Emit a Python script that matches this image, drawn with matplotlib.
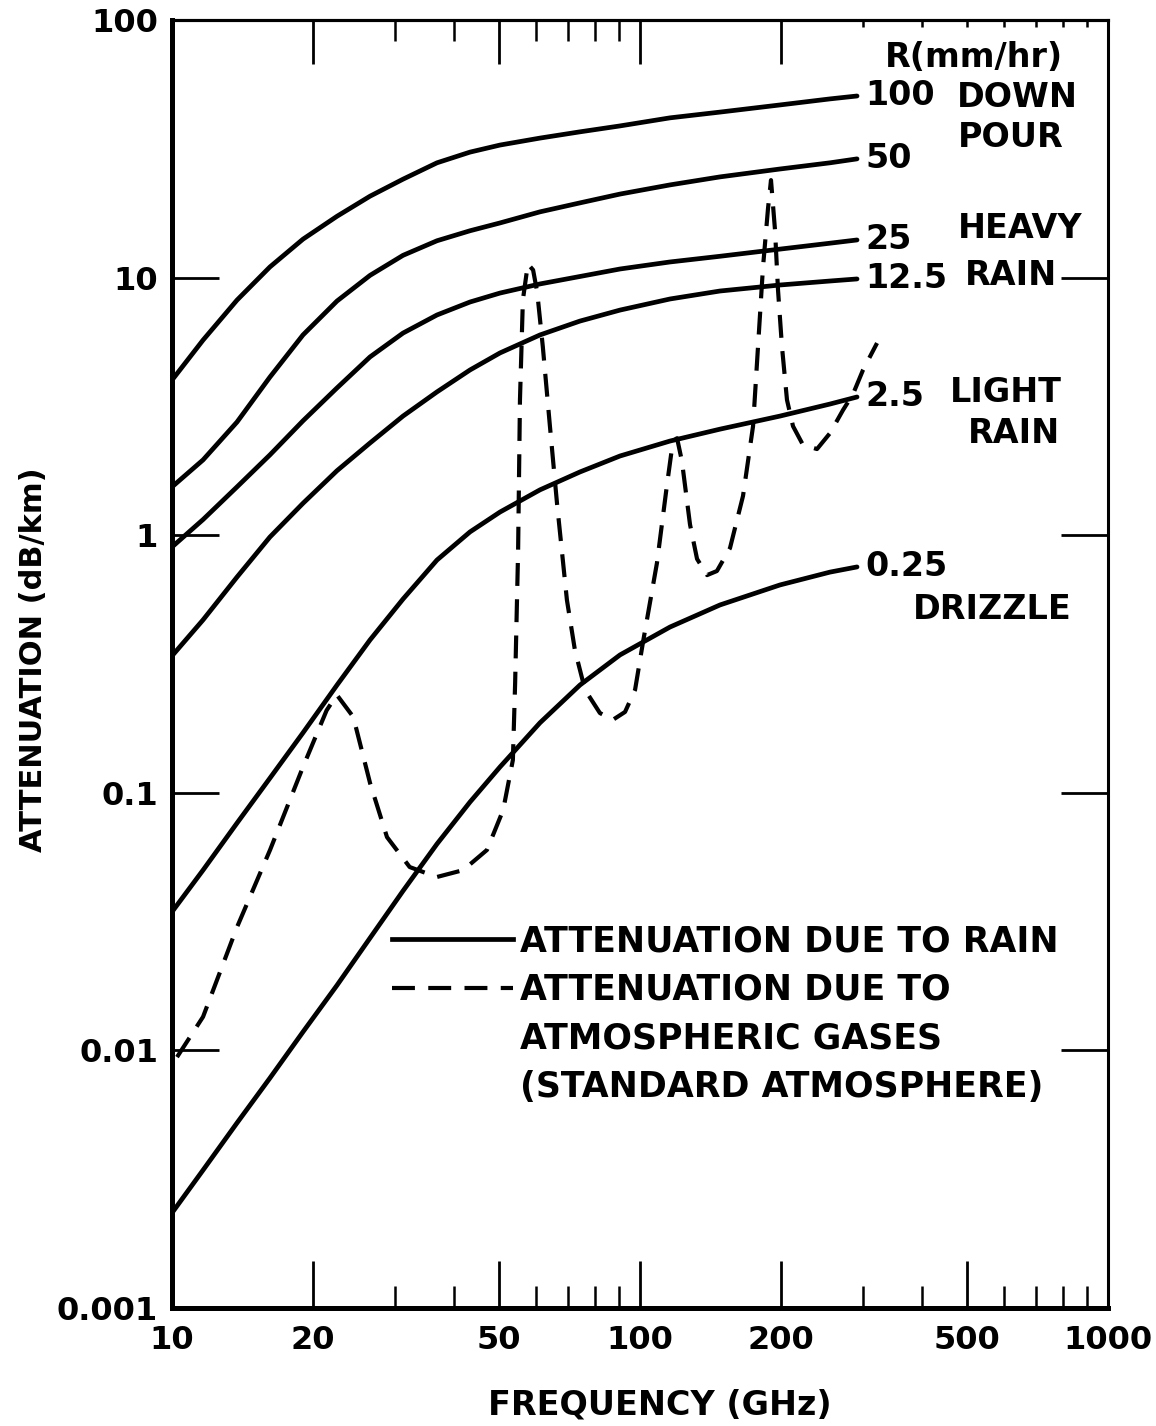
import numpy as np
import matplotlib
matplotlib.use("Agg")
import matplotlib.pyplot as plt
from matplotlib.lines import Line2D
from matplotlib.ticker import FixedLocator, FixedFormatter, NullFormatter, NullLocator

# rain attenuation curves (GHz, dB/km)
freq_rain = [10, 11.65, 13.77, 16.19, 19.05, 22.52, 26.49, 31.16, 36.83, 43.33,
             50.22, 61.14, 74.42, 90.64, 115.9, 148.2, 199.1, 254.7, 290.9]
rain_100 = [4.00, 5.72, 8.18, 11.0, 14.1, 17.3, 20.7, 24.1, 27.9, 30.7,
            32.7, 34.8, 36.8, 38.8, 41.7, 43.9, 46.8, 49.4, 50.7]
rain_50 = [1.54, 1.96, 2.75, 4.11, 5.99, 8.11, 10.2, 12.2, 13.9, 15.2,
           16.3, 18.0, 19.5, 21.1, 22.9, 24.6, 26.4, 27.9, 28.9]
rain_25 = [0.900, 1.15, 1.54, 2.05, 2.78, 3.73, 4.92, 6.09, 7.16, 8.04,
           8.71, 9.45, 10.1, 10.8, 11.5, 12.1, 12.9, 13.6, 14.0]
rain_12_5 = [0.340, 0.469, 0.688, 0.984, 1.33, 1.78, 2.28, 2.90, 3.60, 4.38,
             5.10, 5.99, 6.78, 7.48, 8.26, 8.87, 9.36, 9.70, 9.88]
rain_2_5 = [0.0345, 0.0501, 0.0763, 0.114, 0.171, 0.262, 0.392, 0.565, 0.801, 1.03,
            1.23, 1.50, 1.76, 2.03, 2.32, 2.58, 2.90, 3.23, 3.44]
rain_0_25 = [0.00234, 0.00343, 0.00523, 0.00781, 0.0118, 0.0179, 0.0273, 0.0416, 0.0633, 0.0921,
             0.126, 0.187, 0.262, 0.343, 0.440, 0.536, 0.641, 0.719, 0.753]
rain_labels = ["100", "50", "25", "12.5", "2.5", "0.25"]

# atmospheric gases (standard atmosphere)
gas_freq = [10.25, 11.65, 13.77, 16.2, 19.05, 21.4, 22.5, 24.4, 26.5, 28.8, 32.2, 36.8, 41.9, 47.1,
            51.0, 53.5, 54.1, 54.9, 55.4, 56.2, 57.6, 59.1, 60.3, 62.0, 64.2, 66.5, 69.8, 72.6,
            76.3, 82.1, 87.5, 92.9, 97.6, 101.5, 108.7, 114.2, 117.6, 120.0, 122.9, 127.9, 132.4,
            139.1, 146.0, 155.7, 166.0, 174.4, 178.7, 183.1, 187.7, 190.5, 194.3, 197.2, 201.1,
            206.1, 212.3, 223.0, 238.9, 254.7, 271.5, 285.2, 299.6, 321.0]
gas_atten = [0.00942, 0.0135, 0.0301, 0.0600, 0.126, 0.209, 0.240, 0.197, 0.109, 0.0673, 0.0515,
             0.0471, 0.0501, 0.0600, 0.0857, 0.134, 0.267, 0.877, 3.35, 8.19, 11.3, 10.7, 8.79,
             5.38, 2.65, 1.32, 0.560, 0.358, 0.251, 0.204, 0.192, 0.206, 0.251, 0.385, 0.780,
             1.57, 2.32, 2.38, 1.94, 1.10, 0.809, 0.700, 0.726, 0.891, 1.42, 2.65, 5.38, 10.9,
             18.5, 23.9, 15.3, 8.95, 5.38, 3.35, 2.65, 2.24, 2.16, 2.49, 3.06, 3.53, 4.38, 5.57]

x_major = [10, 20, 50, 100, 200, 500, 1000]
x_major_labels = ["10", "20", "50", "100", "200", "500", "1000"]
x_minor = [30, 40, 60, 70, 80, 90, 300, 400, 600, 700, 800, 900]
top_major = [20, 50, 100, 200]
top_minor = [30, 40, 60, 70, 80, 90]
top_short = [300, 400, 500, 600, 700, 800, 900]
y_ticks = [0.001, 0.01, 0.1, 1, 10, 100]
y_labels = ["0.001", "0.01", "0.1", "1", "10", "100"]

plt.rcParams['font.family'] = ['DejaVu Sans']
plt.rcParams['font.weight'] = 'bold'
plt.rcParams['axes.labelweight'] = 'bold'

fig = plt.figure(figsize=(11.56, 14.26), dpi=100)
ax = fig.add_axes([172 / 1156, 1 - 1308 / 1426, 936 / 1156, 1288 / 1426])
ax.set_xscale('log')
ax.set_yscale('log')
ax.set_xlim(10, 1000)
ax.set_ylim(0.001, 100)

lw = 3.4
rain_sets = [rain_100, rain_50, rain_25, rain_12_5, rain_2_5, rain_0_25]
for vals, lab in zip(rain_sets, rain_labels):
    ax.plot(freq_rain, vals, color='black', lw=lw, solid_capstyle='round', solid_joinstyle='round')
    ax.annotate(lab, (freq_rain[-1], vals[-1]), xytext=(6, 0), textcoords='offset points',
                ha='left', va='center', fontsize=24)

gas_dash = (0, (5.5, 3.2))
ax.plot(gas_freq, gas_atten, color='black', lw=3.0, linestyle=gas_dash)

# category words at the right
words = [("R(mm/hr)", 0.762, 0.971), ("DOWN", 0.839, 0.940), ("POUR", 0.840, 0.909),
         ("HEAVY", 0.840, 0.838), ("RAIN", 0.847, 0.802), ("LIGHT", 0.831, 0.711),
         ("RAIN", 0.850, 0.679), ("DRIZZLE", 0.791, 0.542)]
for w, xa, ya in words:
    ax.text(xa, ya, w, transform=ax.transAxes, ha='left', va='center', fontsize=24)

# axes ticks
ax.xaxis.set_major_locator(FixedLocator(x_major))
ax.xaxis.set_major_formatter(FixedFormatter(x_major_labels))
ax.xaxis.set_minor_locator(FixedLocator(x_minor))
ax.xaxis.set_minor_formatter(NullFormatter())
ax.yaxis.set_major_locator(FixedLocator(y_ticks))
ax.yaxis.set_major_formatter(FixedFormatter(y_labels))
ax.yaxis.set_minor_locator(NullLocator())

ax.tick_params(axis='x', which='major', direction='in', length=34, width=2.0,
               top=False, labelsize=23, pad=12)
ax.tick_params(axis='x', which='minor', direction='in', length=16, width=1.8, top=False)
ax.tick_params(axis='y', which='major', direction='in', length=34, width=2.0,
               left=True, right=True, labelsize=23, pad=10)

sec = ax.secondary_xaxis('top')
sec.xaxis.set_major_locator(FixedLocator(top_major))
sec.xaxis.set_major_formatter(NullFormatter())
sec.xaxis.set_minor_locator(FixedLocator(top_minor))
sec.xaxis.set_minor_formatter(NullFormatter())
sec.tick_params(axis='x', which='major', direction='in', length=32, width=2.0)
sec.tick_params(axis='x', which='minor', direction='in', length=15, width=1.8)
sec.spines['top'].set_linewidth(2.2)

sec2 = ax.secondary_xaxis('top')
sec2.xaxis.set_major_locator(FixedLocator(top_short))
sec2.xaxis.set_major_formatter(NullFormatter())
sec2.xaxis.set_minor_locator(NullLocator())
sec2.tick_params(axis='x', which='major', direction='in', length=5, width=1.8)
sec2.spines['top'].set_linewidth(2.2)

for s, w in [('left', 3.6), ('bottom', 3.6), ('top', 2.2), ('right', 2.2)]:
    ax.spines[s].set_linewidth(w)

ax.set_xlabel("FREQUENCY (GHz)", fontsize=24, fontweight='bold')
ax.xaxis.set_label_coords(0.521, -0.075)
ax.xaxis.label.set_va('center')
ax.set_ylabel("ATTENUATION (dB/km)", fontsize=22, fontweight='bold')
ax.yaxis.set_label_coords(-0.1485, 0.503)
ax.yaxis.label.set_va('center')

handles = [Line2D([], [], color='black', lw=lw),
           Line2D([], [], color='black', lw=3.0, linestyle=gas_dash),
           Line2D([], [], color='none'),
           Line2D([], [], color='none')]
legend_labels = ["ATTENUATION DUE TO RAIN", "ATTENUATION DUE TO",
                 "ATMOSPHERIC GASES", "(STANDARD ATMOSPHERE)"]
ax.legend(handles, legend_labels, loc='upper left', bbox_to_anchor=(0.235, 0.298),
          frameon=False, prop={'size': 25, 'weight': 'bold'}, handlelength=3.5,
          handletextpad=0.2, labelspacing=0.42, borderpad=0, borderaxespad=0)

fig.savefig("out.png", dpi=100)
